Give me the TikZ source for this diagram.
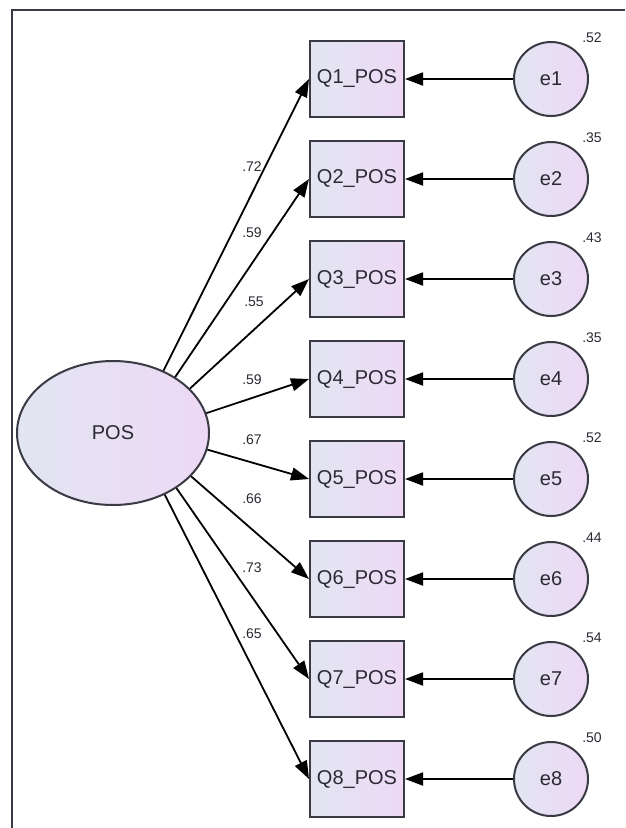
\documentclass[tikz,border=0pt]{standalone}
\usepackage{fontspec}
\setmainfont{Liberation Sans}
\usetikzlibrary{arrows.meta,shapes.geometric}
\definecolor{fillL}{HTML}{E2E5F2}
\definecolor{fillR}{HTML}{EDD9F5}
\definecolor{edgec}{HTML}{3A3A44}
\definecolor{txt}{HTML}{2A2A33}
\begin{document}
\begin{tikzpicture}[x=1pt,y=-1pt,
  obs/.style={draw=edgec,line width=2pt,left color=fillL,right color=fillR,minimum width=94pt,minimum height=76pt,inner sep=0pt,text=txt,font=\fontsize{20}{20}\selectfont},
  err/.style={circle,draw=edgec,line width=2pt,left color=fillL,right color=fillR,minimum size=74pt,inner sep=0pt,text=txt,font=\fontsize{20}{20}\selectfont},
  lat/.style={ellipse,draw=edgec,line width=2pt,left color=fillL,right color=fillR,minimum width=192pt,minimum height=144pt,inner sep=0pt,text=txt,font=\fontsize{20}{20}\selectfont},
  regpath/.style={draw=black,line width=1.8pt,-{Triangle[length=18pt,width=13pt]}},
  coef/.style={font=\fontsize{14}{14}\selectfont,inner sep=0pt,text=txt}
]
\useasboundingbox (0,0) rectangle (625,828);
\fill[white] (0,0) rectangle (625,828);
\coordinate (fa) at (12,828);
\coordinate (fb) at (12,10);
\coordinate (fc) at (625,10);
\draw[edgec,line width=1.3pt] (fa) -- (fb) -- (fc);
\node[lat] (POS) at (113,433) {POS};
\foreach \i/\vv in {1/.52,2/.35,3/.43,4/.35,5/.52,6/.44,7/.54,8/.50} {
  \node[obs] (Q\i) at (357,{79+100*(\i-1)}) {Q\i\_POS};
  \node[err] (e\i) at (551,{79+100*(\i-1)}) {e\i};
  \node[coef] (v\i) at (592,{38+100*(\i-1)}) {\vv};
  \draw[regpath] (e\i) -- (Q\i);
}
\foreach \i/\a/\c/\x/\y in {1/51/.72/252/167,2/42/.59/252/233,3/30/.55/254/302,4/12/.59/252/380,5/-10/.67/252/440,6/-29/.66/252/499,7/-41/.73/252/568,8/-50/.65/252/634} {
  \draw[regpath] (POS.\a) -- (Q\i.west);
  \node[coef] (l\i) at (\x,\y) {\c};
}
\end{tikzpicture}
\end{document}
